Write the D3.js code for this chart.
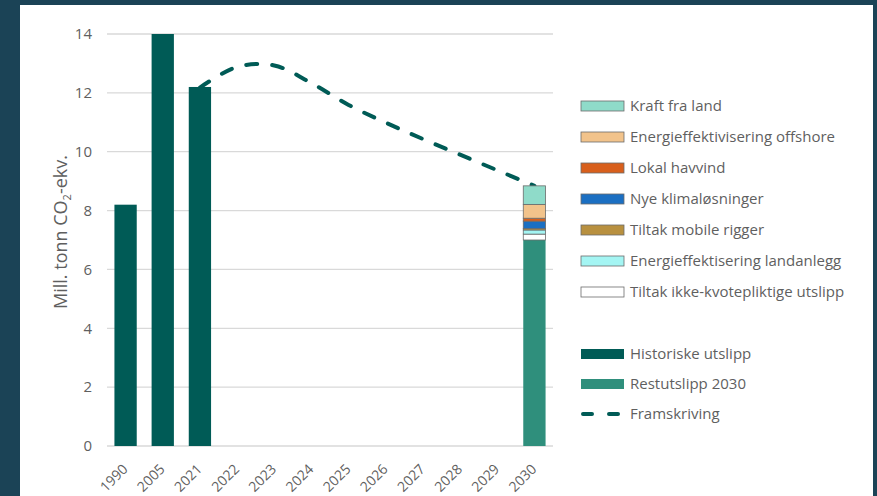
<!DOCTYPE html>
<html><head><meta charset="utf-8">
<script src="https://cdn.jsdelivr.net/npm/d3@7"></script>
<style>
html,body{margin:0;padding:0;background:#1b4356;}
svg{display:block;font-family:"Open Sans",sans-serif;}
</style></head>
<body>
<svg id="c" width="877" height="496"></svg>
<script>
const categories = ["1990","2005","2021","2022","2023","2024","2025","2026","2027","2028","2029","2030"];
const historiskYears = ["1990","2005","2021"];
const historiskValues = [8.2, 14.0, 12.2];
const projectionYears = ["2021","2022","2023","2024","2025","2026","2027","2028","2029","2030"];
const projectionValues = [12.18, 12.88, 12.93, 12.33, 11.59, 10.99, 10.43, 9.9, 9.37, 8.84];
const restYear = "2030";
const restValue = 7.0;
const measureNames = ["Tiltak ikke-kvotepliktige utslipp","Energieffektisering landanlegg","Tiltak mobile rigger","Nye klimaløsninger","Lokal havvind","Energieffektivisering offshore","Kraft fra land"];
const measureValues = [0.2, 0.14, 0.05, 0.25, 0.1, 0.47, 0.63];
const measureColors = ["#ffffff","#a4f5f3","#b8903f","#1b6fc2","#d85f1c","#f2c38b","#8fdbc9"];
const yTicks = [0,2,4,6,8,10,12,14];
const legendTop = ["Kraft fra land","Energieffektivisering offshore","Lokal havvind","Nye klimaløsninger","Tiltak mobile rigger","Energieffektisering landanlegg","Tiltak ikke-kvotepliktige utslipp"];
const legendBottom = ["Historiske utslipp","Restutslipp 2030","Framskriving"];

const cHist = "#005b56", cRest = "#2f8f7c", textC = "#5f5f5f";
const svg = d3.select("#c");
svg.append("rect").attr("x",20).attr("y",5).attr("width",853).attr("height",491).attr("fill","#fff");

const x = d3.scaleBand().domain(categories).range([107,553]).paddingInner(0.4).paddingOuter(0.2);
const y = d3.scaleLinear().domain([0,14]).range([446,34]);

// grid
svg.append("g").selectAll("line").data(yTicks).join("line")
  .attr("x1",107).attr("x2",553).attr("y1",d=>y(d)).attr("y2",d=>y(d))
  .attr("stroke","#d9d9d9").attr("stroke-width",1.3);

// y axis labels
const yAxis = svg.append("g").attr("transform","translate(100,0)")
  .call(d3.axisLeft(y).tickValues(yTicks).tickSize(0).tickPadding(8));
yAxis.select(".domain").remove();
yAxis.selectAll("text").attr("font-size",15).attr("fill",textC).attr("font-family","Open Sans");

// x axis labels
svg.append("g").selectAll("text").data(categories).join("text")
  .attr("transform",d=>`translate(${x(d)+x.bandwidth()/2+3},470) rotate(-45)`)
  .attr("text-anchor","end")
  .attr("font-size",14).attr("fill",textC).text(d=>d);

// y title
const yt = svg.append("text").attr("transform","translate(67,232) rotate(-90)")
  .attr("text-anchor","middle").attr("font-size",18).attr("fill",textC);
yt.append("tspan").text("Mill. tonn CO");
yt.append("tspan").attr("font-size",11).attr("dy",4).text("2");
yt.append("tspan").attr("dy",-4).text("-ekv.");

// projection line
const line = d3.line().x((d,i)=>x(projectionYears[i])+x.bandwidth()/2).y(d=>y(d)).curve(d3.curveCatmullRom.alpha(0.5));
svg.append("path").datum(projectionValues).attr("d",line)
  .attr("fill","none").attr("stroke",cHist).attr("stroke-width",4)
  .attr("stroke-dasharray","11,15").attr("stroke-linecap","round");

// historical bars
svg.append("g").selectAll("rect").data(historiskValues).join("rect")
  .attr("x",(d,i)=>x(historiskYears[i])).attr("width",x.bandwidth())
  .attr("y",d=>y(d)).attr("height",d=>y(0)-y(d)).attr("fill",cHist);

// rest bar
svg.append("rect").attr("x",x(restYear)).attr("width",x.bandwidth())
  .attr("y",y(restValue)).attr("height",y(0)-y(restValue)).attr("fill",cRest);

// stacked measures
let acc = restValue;
const segs = measureValues.map((v,i)=>{const s={y0:acc,y1:acc+v,c:measureColors[i]};acc+=v;return s;});
svg.append("g").selectAll("rect").data(segs).join("rect")
  .attr("x",x(restYear)).attr("width",x.bandwidth())
  .attr("y",d=>y(d.y1)).attr("height",d=>y(d.y0)-y(d.y1))
  .attr("fill",d=>d.c).attr("stroke","#6b6b6b").attr("stroke-width",0.8);

// legend
const colorByName = {};
measureNames.forEach((n,i)=>colorByName[n]=measureColors[i]);
const lg = svg.append("g");
legendTop.forEach((n,i)=>{
  const cy = 106 + i*31;
  lg.append("rect").attr("x",581).attr("y",cy-5).attr("width",43).attr("height",10)
    .attr("fill",colorByName[n]).attr("stroke","#6b6b6b").attr("stroke-width",0.8);
  lg.append("text").attr("x",630).attr("y",cy).attr("dy","0.35em").attr("font-size",15).attr("fill",textC).text(n);
});
legendBottom.forEach((n,i)=>{
  const cy = 354 + i*30;
  if(i<2){
    lg.append("rect").attr("x",581).attr("y",cy-5).attr("width",43).attr("height",10).attr("fill",i===0?cHist:cRest);
  } else {
    lg.append("line").attr("x1",583).attr("x2",622).attr("y1",cy).attr("y2",cy)
      .attr("stroke",cHist).attr("stroke-width",4).attr("stroke-linecap","round").attr("stroke-dasharray","9,17");
  }
  lg.append("text").attr("x",630).attr("y",cy).attr("dy","0.35em").attr("font-size",15).attr("fill",textC).text(n);
});
</script>
</body></html>
